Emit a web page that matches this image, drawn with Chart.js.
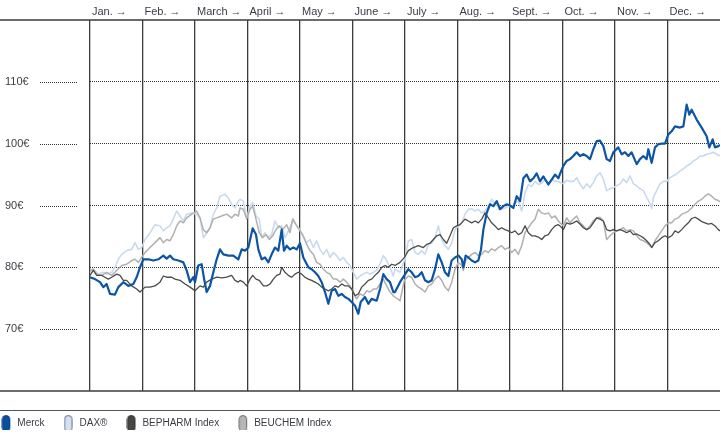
<!DOCTYPE html>
<html>
<head>
<meta charset="utf-8">
<script src="https://cdn.jsdelivr.net/npm/chart.js@4.4.1/dist/chart.umd.min.js"></script>
<style>
html,body{margin:0;padding:0;background:#fff;}
#wrap{width:721px;height:435px;}
</style>
</head>
<body>
<div id="wrap"><canvas id="c" width="721" height="435"></canvas></div>
<script>
// ---- categories / tick labels ----
const monthLabels = ['Jan. \u2192','Feb. \u2192','March \u2192','April \u2192','May \u2192','June \u2192','July \u2192','Aug. \u2192','Sept. \u2192','Oct. \u2192','Nov. \u2192','Dec. \u2192'];
const yTickValues = [70, 80, 90, 100, 110];
const seriesNames = ['Merck', 'DAX\u00AE', 'BEPHARM Index', 'BEUCHEM Index'];

// ---- series: time in months since 1 Jan, value in € ----
const merckT = [0,0.095,0.19,0.254,0.317,0.381,0.476,0.54,0.635,0.73,0.825,0.889,0.952,1.016,1.111,1.206,1.302,1.397,1.46,1.524,1.587,1.683,1.778,1.841,1.905,1.968,2.0,2.063,2.127,2.178,2.222,2.286,2.349,2.413,2.476,2.54,2.635,2.73,2.825,2.889,
2.952,3.016,3.098,3.162,3.206,3.27,3.333,3.397,3.46,3.524,3.587,3.651,3.695,3.746,3.81,3.873,3.937,4.0,4.063,4.159,4.222,4.286,4.349,4.413,4.476,4.54,4.603,4.667,4.73,4.794,4.857,4.921,4.984,5.048,5.111,5.156,5.238,5.302,5.365,5.46,5.524,5.587,5.651,5.714,5.778,
5.81,5.905,5.988,6.064,6.127,6.191,6.254,6.318,6.381,6.445,6.508,6.572,6.635,6.699,6.762,6.826,6.889,6.953,7.016,7.08,7.112,7.156,7.207,7.27,7.334,7.397,7.448,7.493,7.556,7.62,7.683,7.747,7.81,7.874,7.937,8.001,8.064,8.128,8.191,8.254,8.318,8.381,8.445,8.508,8.572,8.635,8.731,8.794,8.858,8.921,
8.952,9.016,9.079,9.143,9.206,9.27,9.333,9.397,9.46,9.524,9.587,9.651,9.714,9.778,9.841,9.905,9.968,10.063,10.127,10.19,10.254,10.317,10.413,10.476,10.54,10.603,10.635,10.698,10.762,10.825,10.889,10.952,11.016,11.079,11.143,11.238,11.302,11.365,11.416,11.46,11.555,11.651,11.746,11.797,11.86,11.905,11.968,12];
const merckV = [78.4,78.1,77.6,76.8,77.3,75.7,75.6,76.8,77.6,77.0,77.3,78.4,80.0,81.3,81.3,81.1,81.3,81.9,81.4,81.9,81.3,81.1,80.8,79.5,77.6,78.4,77.6,80.3,80.5,77.9,76.0,77.0,79.2,81.3,82.9,82.1,81.9,81.9,81.3,82.9,
82.7,83.2,86.3,85.3,82.9,81.3,81.6,80.8,82.1,83.2,82.7,86.1,82.7,83.5,82.9,83.2,82.9,83.9,81.6,80.0,79.7,79.2,78.6,77.6,76.0,74.1,76.2,76.5,75.4,75.7,75.2,74.9,74.4,73.8,72.5,74.4,75.2,74.1,74.9,74.6,76.5,78.9,78.1,77.6,76.0,
76.0,77.6,78.7,79.7,79.2,78.4,78.6,79.2,77.9,77.6,77.9,79.7,82.1,80.8,79.2,78.6,81.1,81.6,81.9,81.3,80.0,81.9,81.6,81.1,80.8,81.1,82.9,86.1,88.8,90.2,89.9,90.7,89.4,89.9,90.2,90.0,89.6,91.5,90.7,94.4,95.0,93.9,94.4,95.2,93.9,94.7,93.4,94.2,95.0,94.4,
95.1,96.4,97.2,97.5,98.0,98.6,98.0,98.3,98.0,97.5,99.1,100.4,100.5,99.6,97.5,97.2,98.6,99.4,98.3,98.6,98.0,98.6,96.7,97.5,98.0,97.5,99.1,96.9,99.4,99.9,100.0,100.0,101.5,102.0,102.8,102.6,102.8,106.3,104.7,105.5,103.9,102.6,101.2,99.4,100.7,99.4,99.6,99.8];

const daxT = [0,0.063,0.159,0.254,0.317,0.413,0.476,0.54,0.603,0.698,0.794,0.857,0.921,0.984,1.048,1.143,1.238,1.333,1.397,1.46,1.524,1.587,1.651,1.714,1.778,1.841,1.937,2.032,2.095,2.159,2.203,2.286,2.349,2.413,2.476,2.571,2.635,2.698,2.762,2.825,
2.857,2.921,2.984,3.048,3.098,3.162,3.225,3.27,3.333,3.397,3.46,3.524,3.587,3.651,3.714,3.778,3.873,3.937,4.0,4.063,4.127,4.19,4.254,4.317,4.381,4.444,4.508,4.571,4.635,4.698,4.762,4.825,4.889,4.952,5.016,5.079,5.143,5.206,5.27,5.333,5.397,5.46,5.524,5.587,5.651,5.714,5.778,
5.81,5.905,5.988,6.064,6.127,6.191,6.254,6.318,6.381,6.445,6.508,6.572,6.635,6.699,6.762,6.826,6.889,6.953,7.016,7.08,7.143,7.207,7.27,7.334,7.397,7.461,7.524,7.588,7.651,7.715,7.778,7.842,7.905,7.969,8.032,8.096,8.159,8.223,8.286,8.35,8.413,8.477,8.54,8.604,8.667,8.731,8.794,8.858,8.921,
8.952,9.016,9.079,9.143,9.206,9.27,9.333,9.397,9.46,9.524,9.587,9.651,9.714,9.778,9.841,9.905,9.968,10.032,10.095,10.159,10.222,10.286,10.349,10.413,10.476,10.54,10.603,10.667,10.698,10.73,10.794,10.857,10.921,10.984,11.048,11.111,11.175,11.238,11.302,11.365,11.429,11.492,11.556,11.619,11.683,11.746,11.81,11.873,11.937,12];
const daxV = [78.9,79.7,78.9,79.2,78.9,79.2,80.0,81.3,82.1,82.7,82.9,84.0,82.9,83.2,84.5,85.6,86.9,86.7,85.9,86.4,86.7,87.8,89.1,88.3,87.5,88.6,88.8,88.6,88.0,84.8,85.3,86.4,88.6,89.6,91.5,91.8,91.2,90.2,89.6,90.7,
91.0,90.7,88.0,89.9,90.5,88.3,87.8,84.8,85.6,84.8,85.3,87.5,86.4,86.7,84.8,85.9,87.8,86.7,86.1,84.8,84.0,84.5,83.2,84.3,82.9,82.1,82.9,81.6,82.4,81.9,81.1,81.6,80.8,80.3,79.2,78.1,78.6,78.9,79.2,78.9,79.2,79.5,80.5,81.9,81.1,80.0,78.6,
79.7,79.2,81.1,84.3,84.5,82.4,82.1,82.7,82.1,83.7,83.9,84.8,86.7,84.5,83.5,82.9,83.9,86.1,86.7,87.2,88.6,89.4,89.5,89.1,89.4,88.8,89.1,89.9,91.0,90.2,89.9,89.4,89.6,89.9,89.8,90.4,90.7,89.1,92.0,93.4,93.1,93.9,93.4,93.6,94.2,93.6,94.2,93.9,93.9,
93.7,93.5,94.1,93.9,93.9,94.5,93.5,92.7,93.5,92.9,93.7,94.8,95.3,94.3,92.4,92.7,92.9,93.2,93.5,94.3,93.7,94.8,93.5,93.2,92.7,92.4,91.3,90.3,89.5,91.3,92.4,93.5,93.9,93.9,94.5,94.8,95.1,95.6,95.9,96.4,96.7,97.2,97.5,98.0,98.0,98.3,98.4,98.6,98.3,98.0];

const bepharmT = [0,0.063,0.127,0.222,0.286,0.349,0.413,0.508,0.571,0.635,0.698,0.794,0.889,0.952,1.048,1.143,1.238,1.333,1.397,1.46,1.556,1.619,1.714,1.81,1.905,2.0,2.095,2.159,2.222,2.317,2.413,2.508,2.603,2.698,2.762,2.825,
2.857,2.921,2.984,3.048,3.098,3.162,3.225,3.302,3.365,3.429,3.492,3.556,3.619,3.651,3.714,3.778,3.841,3.905,3.968,4.032,4.095,4.159,4.222,4.286,4.349,4.413,4.476,4.54,4.603,4.667,4.73,4.794,4.857,4.921,4.984,5.048,5.111,5.175,5.238,5.302,5.365,5.429,5.492,5.556,5.619,5.683,5.746,
5.81,5.905,5.988,6.064,6.159,6.254,6.35,6.413,6.477,6.54,6.604,6.667,6.731,6.794,6.858,6.921,6.985,7.048,7.143,7.207,7.27,7.334,7.397,7.461,7.524,7.588,7.651,7.715,7.778,7.842,7.905,7.969,8.032,8.096,8.159,8.223,8.286,8.35,8.413,8.477,8.54,8.604,8.667,8.731,8.794,8.858,8.921,
8.952,9.016,9.079,9.143,9.206,9.27,9.333,9.397,9.46,9.524,9.587,9.651,9.714,9.778,9.841,9.905,9.968,10.032,10.095,10.159,10.222,10.286,10.349,10.413,10.476,10.54,10.603,10.667,10.698,10.762,10.825,10.889,10.952,11.016,11.079,11.143,11.206,11.27,11.333,11.397,11.46,11.524,11.587,11.651,11.714,11.778,11.841,11.905,11.968,12];
const bepharmV = [78.7,79.5,78.7,78.7,78.4,78.1,78.4,78.9,78.7,77.9,77.9,77.0,76.5,76.0,76.8,76.8,77.0,77.6,78.6,78.4,78.4,78.1,77.9,77.3,76.8,76.2,77.0,76.8,77.6,78.1,78.4,78.3,78.4,78.7,77.9,77.6,
77.9,77.6,77.0,78.1,78.7,78.1,77.9,77.0,77.0,77.3,78.1,78.7,78.9,80.0,79.2,78.7,78.4,78.9,79.2,78.9,78.4,78.1,77.9,77.6,77.3,76.8,76.5,76.2,76.5,77.0,76.8,77.3,77.0,77.0,76.5,75.4,75.7,76.8,77.3,77.9,78.1,78.7,79.2,80.0,80.3,80.0,80.5,
80.3,80.8,81.6,82.7,83.2,83.5,83.2,83.7,83.9,84.5,85.1,85.3,84.5,83.9,85.1,86.4,86.7,86.9,87.8,87.5,87.2,87.5,87.2,87.8,88.8,88.0,87.2,86.7,86.1,86.4,86.1,85.9,85.6,85.9,85.3,85.6,86.7,85.6,85.1,85.1,84.9,84.5,85.1,85.3,86.1,86.7,86.9,
86.7,86.1,87.2,87.0,87.2,87.5,87.0,86.4,86.1,86.4,87.2,88.0,87.8,87.5,86.1,85.9,86.1,85.9,86.1,85.9,85.6,85.9,85.3,85.4,85.1,84.8,84.3,83.7,83.2,84.0,84.3,84.8,85.1,84.8,85.1,85.9,85.6,86.1,86.7,87.2,87.9,88.1,87.8,87.4,87.2,87.0,87.1,86.7,86.1,85.9];

const beuchemT = [0,0.063,0.127,0.222,0.317,0.413,0.508,0.603,0.698,0.794,0.857,0.921,0.984,1.048,1.143,1.238,1.333,1.397,1.46,1.524,1.587,1.651,1.714,1.778,1.841,1.937,2.032,2.095,2.159,2.222,2.286,2.349,2.413,2.508,2.603,2.698,2.762,2.825,
2.857,2.921,2.984,3.048,3.098,3.162,3.225,3.289,3.352,3.416,3.479,3.543,3.606,3.67,3.746,3.81,3.86,3.924,3.987,4.063,4.127,4.19,4.254,4.317,4.381,4.444,4.508,4.571,4.635,4.698,4.762,4.825,4.889,4.952,5.016,5.079,5.143,5.206,5.27,5.333,5.397,5.46,5.524,5.587,5.651,5.714,5.778,
5.81,5.905,5.988,6.064,6.127,6.191,6.254,6.318,6.381,6.445,6.508,6.572,6.635,6.699,6.762,6.826,6.889,6.953,7.016,7.08,7.112,7.156,7.207,7.27,7.334,7.397,7.461,7.524,7.588,7.651,7.715,7.778,7.842,7.905,7.969,8.032,8.096,8.159,8.223,8.286,8.35,8.413,8.477,8.54,8.604,8.667,8.731,8.794,8.858,8.921,
8.952,9.016,9.079,9.143,9.206,9.27,9.333,9.397,9.46,9.524,9.587,9.651,9.714,9.778,9.841,9.905,9.968,10.032,10.095,10.159,10.222,10.286,10.349,10.413,10.476,10.54,10.603,10.667,10.698,10.762,10.825,10.889,10.952,11.016,11.079,11.143,11.206,11.27,11.333,11.397,11.46,11.524,11.587,11.651,11.714,11.778,11.841,11.905,11.968,12];
const beuchemV = [79.5,79.7,78.9,78.7,79.2,78.7,79.5,80.3,80.5,81.1,81.3,80.8,81.6,82.4,83.2,84.0,84.8,84.0,84.5,84.3,85.3,86.7,87.5,87.2,88.0,88.6,89.1,88.0,86.1,85.6,86.4,87.8,88.0,88.3,88.6,88.0,88.6,88.3,
89.6,89.4,87.8,89.4,89.9,87.8,85.6,84.8,85.3,84.5,85.1,86.1,86.7,86.1,86.9,85.6,87.8,86.9,86.1,85.1,83.7,82.7,82.1,80.8,80.5,79.7,79.2,78.9,78.1,78.1,77.6,78.1,77.6,77.0,76.0,74.9,75.7,75.4,76.2,76.0,76.5,76.5,77.3,78.1,77.0,76.0,75.4,
75.2,74.6,77.9,78.6,78.4,77.3,76.8,76.5,76.0,77.0,77.3,78.1,78.6,77.9,76.8,76.2,77.6,79.7,80.8,80.3,79.5,81.1,81.6,82.1,82.4,81.9,82.1,82.7,82.4,83.0,82.7,83.2,83.5,82.9,83.2,82.4,82.9,82.1,83.5,85.6,86.4,87.2,87.8,89.4,88.8,88.6,88.8,88.0,88.3,87.5,
87.2,86.7,88.0,87.2,87.8,88.3,87.2,86.7,86.1,86.7,87.5,88.0,88.1,87.5,84.5,85.1,85.6,85.9,86.1,86.4,85.9,86.1,85.9,85.1,84.5,84.3,84.0,83.5,83.2,84.3,85.1,85.9,86.7,87.2,87.2,87.8,88.0,88.6,88.8,89.1,89.6,90.2,90.7,91.0,91.5,91.9,91.5,91.0,90.8,90.6];

// ---- styles ----
const FONT = "'Liberation Sans', Arial, sans-serif";
const TEXT = '#3a3d45';
const lineColors = ['#0b55a4', '#c9daee', '#4b4b49', '#b0b0b0'];
const lineWidths = [2.2, 1.6, 1.3, 1.5];
const drawOrder = [0, 3, 1, 2];
const markerFill = ['#0a4f9e', '#d4e1f0', '#474745', '#b6b6b6'];
const markerStroke = ['#083c78', '#5f6f87', '#2e2e2e', '#6a6a6a'];

function pts(t, v) { return t.map((x, i) => ({ x: x, y: v[i] })); }

function makeMarker(fill, stroke) {
  const c = document.createElement('canvas');
  c.width = 11; c.height = 17;
  const g = c.getContext('2d');
  g.beginPath();
  g.roundRect(1, 0.5, 7.5, 16, 3.75);
  g.fillStyle = fill; g.fill();
  g.lineWidth = 1; g.strokeStyle = stroke; g.stroke();
  return c;
}
const markers = markerFill.map((f, i) => makeMarker(f, markerStroke[i]));

const seriesData = [pts(merckT, merckV), pts(daxT, daxV), pts(bepharmT, bepharmV), pts(beuchemT, beuchemV)];

const framePlugin = {
  id: 'frame',
  afterLayout(chart) {
    const lg = chart.legend;
    if (lg) {
      const p = lg.options.labels.padding;
      lg.left = 1.3 - p;
      lg.top = chart.chartArea.bottom + 27.5 - p;
    }
  },
  beforeDatasetsDraw(chart) {
    const { ctx, chartArea } = chart;
    const ys = chart.scales.y;
    ctx.save();
    // dotted tick stubs left of the plot
    ctx.strokeStyle = '#333';
    ctx.lineWidth = 1;
    ctx.setLineDash([1, 1]);
    yTickValues.forEach(v => {
      const y = Math.round(ys.getPixelForValue(v)) + 0.5;
      ctx.beginPath(); ctx.moveTo(40, y); ctx.lineTo(77, y); ctx.stroke();
    });
    ctx.setLineDash([]);
    // top and bottom frame lines, full width
    ctx.strokeStyle = '#3c3c3c';
    ctx.lineWidth = 1.5;
    ctx.beginPath();
    ctx.moveTo(0, chartArea.top); ctx.lineTo(chartArea.right, chartArea.top);
    ctx.moveTo(0, chartArea.bottom); ctx.lineTo(chartArea.right, chartArea.bottom);
    ctx.stroke();
    // separator above legend
    ctx.strokeStyle = '#555';
    ctx.lineWidth = 1;
    ctx.beginPath();
    ctx.moveTo(0, chartArea.bottom + 19.5); ctx.lineTo(chartArea.right, chartArea.bottom + 19.5);
    ctx.stroke();
    ctx.restore();
  }
};

new Chart(document.getElementById('c'), {
  type: 'line',
  data: {
    datasets: seriesNames.map((name, i) => ({
      label: name,
      data: seriesData[i],
      borderColor: lineColors[i],
      backgroundColor: lineColors[i],
      borderWidth: lineWidths[i],
      pointRadius: 0,
      pointHoverRadius: 0,
      tension: 0,
      fill: false,
      borderJoinStyle: 'round',
      order: drawOrder[i]
    }))
  },
  options: {
    responsive: false,
    animation: false,
    events: [],
    layout: { padding: { left: 5, right: 1, top: 0, bottom: 5 } },
    scales: {
      x: {
        type: 'linear',
        position: 'top',
        min: 0, max: 12,
        afterFit(s) { s.height = 20; },
        ticks: {
          stepSize: 1, autoSkip: false, maxRotation: 0, minRotation: 0,
          align: 'start', labelOffset: 2, padding: 1,
          color: TEXT, font: { family: FONT, size: 11 },
          callback: v => (monthLabels[v] !== undefined ? monthLabels[v] : '')
        },
        grid: {
          drawTicks: false,
          lineWidth: 1.3,
          color: ctx => (ctx.tick && ctx.tick.value < 12 ? '#3c3c3c' : 'rgba(0,0,0,0)')
        },
        border: { display: false }
      },
      y: {
        min: 60, max: 120,
        afterFit(s) { s.width = 85; },
        ticks: {
          stepSize: 10, crossAlign: 'far', padding: 0,
          color: TEXT, font: { family: FONT, size: 11 },
          callback: v => (yTickValues.includes(v) ? v + '\u20AC' : '')
        },
        grid: {
          drawTicks: false,
          lineWidth: 1,
          color: ctx => (ctx.tick && yTickValues.includes(ctx.tick.value) ? '#333' : 'rgba(0,0,0,0)')
        },
        border: { display: false, dash: [1, 1] }
      }
    },
    plugins: {
      tooltip: { enabled: false },
      legend: {
        position: 'bottom',
        align: 'start',
        maxHeight: 44,
        labels: {
          usePointStyle: true,
          pointStyleWidth: 11,
          padding: 19,
          color: TEXT,
          font: { family: FONT, size: 10 },
          generateLabels: chart => chart.data.datasets.map((ds, i) => ({
            text: ds.label,
            pointStyle: markers[i],
            datasetIndex: i,
            hidden: false,
            lineWidth: 0,
            fillStyle: markerFill[i],
            strokeStyle: markerStroke[i],
            fontColor: TEXT
          }))
        }
      }
    }
  },
  plugins: [framePlugin]
});
</script>
</body>
</html>
